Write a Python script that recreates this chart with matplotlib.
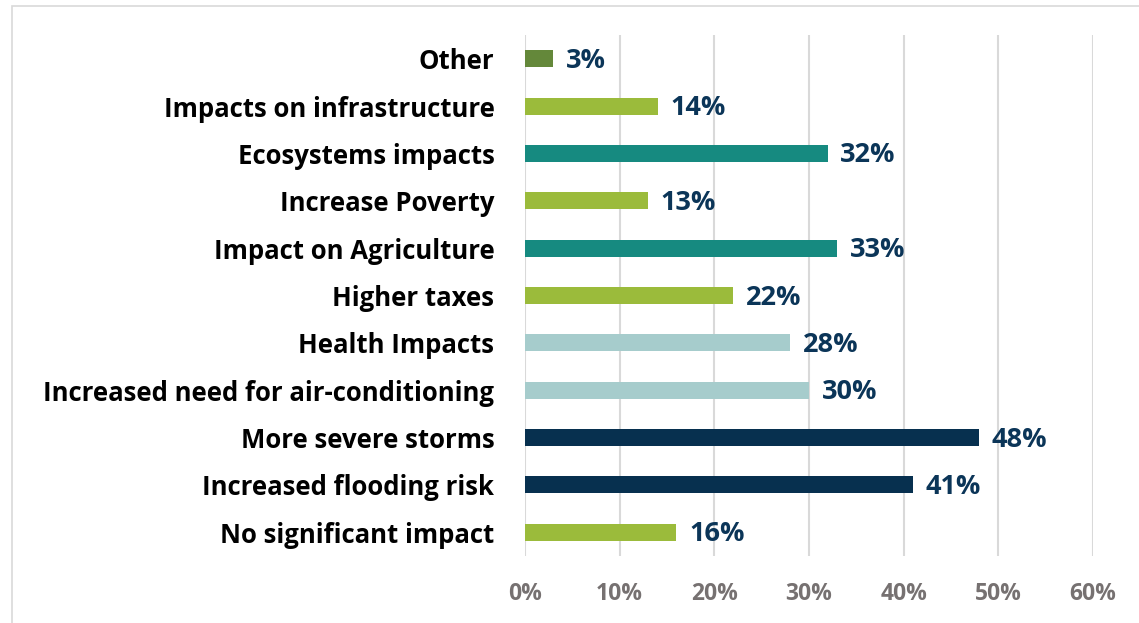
import numpy as np
import matplotlib.pyplot as plt
from matplotlib.patches import Rectangle

# -------------------------------
# Datos
# -------------------------------
categories = [
    "No significant impact",
    "Increased flooding risk",
    "More severe storms",
    "Increased need for air-conditioning",
    "Health Impacts",
    "Higher taxes",
    "Impact on Agriculture",
    "Increase Poverty",
    "Ecosystems impacts",
    "Impacts on infrastructure",
    "Other",
]
values = [16, 41, 48, 30, 28, 22, 33, 13, 32, 14, 3]

GREEN = "#9bbb3b"
DKGREEN = "#64883a"
TEAL = "#168a80"
LTEAL = "#a6cccc"
NAVY = "#07304f"
bar_colors = [GREEN, NAVY, NAVY, LTEAL, LTEAL, GREEN, TEAL, GREEN, TEAL, GREEN, DKGREEN]

x_ticks = [0, 10, 20, 30, 40, 50, 60]

# -------------------------------
# Figura
# -------------------------------
plt.rcParams['font.family'] = ['Open Sans', 'DejaVu Sans']

W, H = 1139, 623
fig = plt.figure(figsize=(W / 100, H / 100), dpi=100)
ax = fig.add_axes([525 / W, 1 - 556 / H, (1093 - 525) / W, (556 - 35) / H])

y = np.arange(len(categories))
ax.barh(y, values, height=0.36, color=bar_colors, zorder=3)

for yi, v in zip(y, values):
    ax.annotate(f"{v}%", xy=(v, yi), xytext=(9, -1.5), textcoords="offset points",
                va="center", ha="left", fontsize=19.5, fontweight="bold", color="#0b3558")

ax.set_xlim(0, 60)
ax.set_ylim(-0.5, len(categories) - 0.5)
ax.set_xticks(x_ticks)
ax.set_xticklabels([f"{t}%" for t in x_ticks])
ax.set_yticks(y)
ax.set_yticklabels(categories)

ax.tick_params(axis="x", length=0, pad=19, labelsize=16.5, labelcolor="#767171")
ax.tick_params(axis="y", length=0, pad=22, labelsize=18.5, labelcolor="black")
for lab in ax.get_xticklabels() + ax.get_yticklabels():
    lab.set_fontweight("bold")

ax.grid(axis="x", color="#d9d9d9", linewidth=1.5, zorder=0)
for s in ax.spines.values():
    s.set_visible(False)

# borde del gráfico
fig.patches.append(Rectangle((12 / W, -0.1), 1.2, 1 - 6 / H + 0.1, transform=fig.transFigure,
                             fill=False, edgecolor="#d9d9d9", linewidth=1.2))

fig.savefig("out.png", dpi=100)
